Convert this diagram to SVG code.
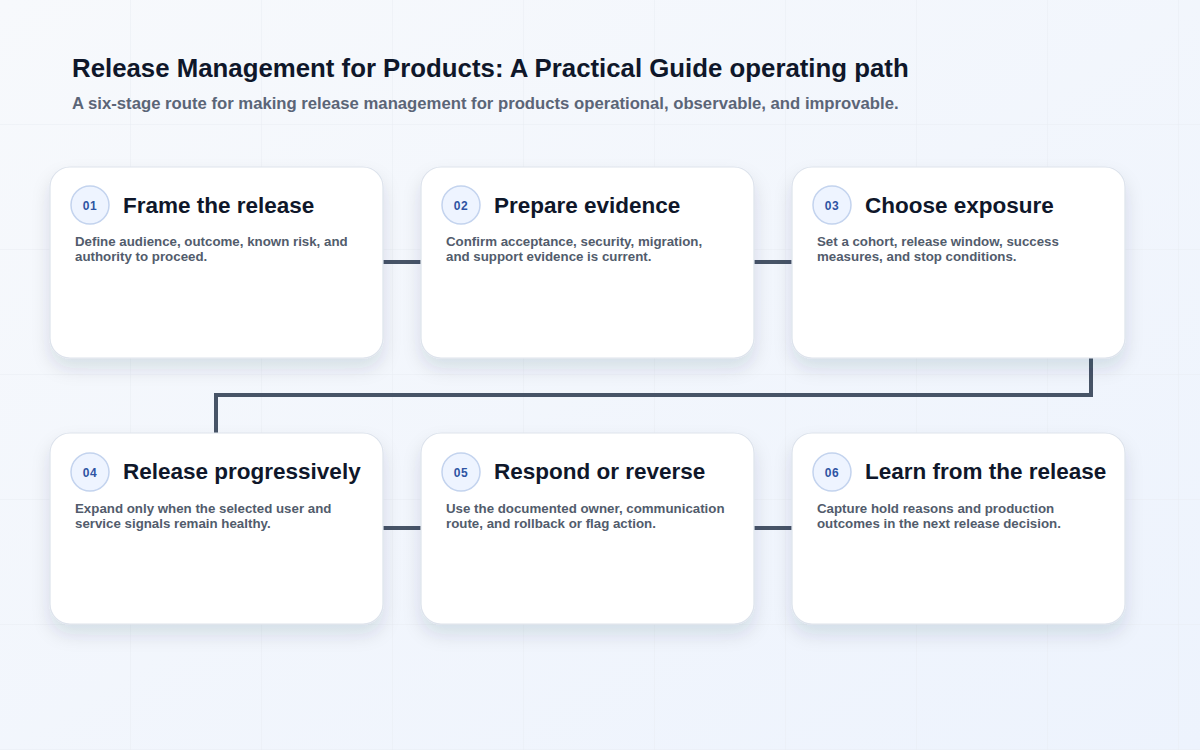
<svg xmlns="http://www.w3.org/2000/svg" width="1200" height="750" viewBox="0 0 1200 750">
  <defs>
    <linearGradient id="bg" x1="0" y1="0" x2="1" y2="1">
      <stop offset="0" stop-color="#f7f9fc"/>
      <stop offset="1" stop-color="#edf3fd"/>
    </linearGradient>
    <pattern id="grid" x="0" y="0" width="131" height="125" patternUnits="userSpaceOnUse">
      <path d="M131 0 V125 M0 125 H131" fill="none" stroke="#e9edf3" stroke-width="1"/>
    </pattern>
    <filter id="shadow" x="-20%" y="-20%" width="140%" height="150%">
      <feDropShadow dx="0" dy="10" stdDeviation="9" flood-color="#1e2a4a" flood-opacity="0.12"/>
    </filter>
    <style>
      .card{fill:#ffffff;stroke:#dde3ec;stroke-width:1.2;filter:url(#shadow)}
      .badge{fill:#eef4ff;stroke:#c3d3ee;stroke-width:1.5}
      .num{font-family:"Liberation Sans",Arial,sans-serif;font-size:12px;font-weight:700;fill:#2f54a3;text-anchor:middle;letter-spacing:0.5px}
      .title{font-family:"Liberation Sans",Arial,sans-serif;font-size:22.5px;font-weight:700;fill:#0f172a}
      .desc{font-family:"Liberation Sans",Arial,sans-serif;font-size:13.3px;font-weight:700;fill:#525c6c}
      .conn{fill:none;stroke:#475467;stroke-width:4;stroke-linejoin:miter}
      .h1{font-family:"Liberation Sans",Arial,sans-serif;font-size:25.8px;font-weight:700;fill:#0f172a}
      .sub{font-family:"Liberation Sans",Arial,sans-serif;font-size:16.7px;font-weight:700;fill:#5b6577}
    </style>
  </defs>
  <rect width="1200" height="750" fill="url(#bg)"/>
  <rect width="1200" height="750" fill="url(#grid)"/>

  <text class="h1" x="72" y="77">Release Management for Products: A Practical Guide operating path</text>
  <text class="sub" x="72" y="109">A six-stage route for making release management for products operational, observable, and improvable.</text>

  <g id="connectors">
    <path class="conn" d="M383 262 H421"/>
    <path class="conn" d="M754 262 H792"/>
    <path class="conn" d="M1091 358 V395 H216 V433"/>
    <path class="conn" d="M383 528 H421"/>
    <path class="conn" d="M754 528 H792"/>
  </g>

  <g id="node-01">
    <rect class="card" x="50" y="167" width="333" height="191" rx="20"/>
    <circle class="badge" cx="90" cy="205" r="19"/>
    <text class="num" x="90" y="209.5">01</text>
    <text class="title" x="123" y="212.5">Frame the release</text>
    <text class="desc" x="75" y="246">Define audience, outcome, known risk, and</text>
    <text class="desc" x="75" y="261">authority to proceed.</text>
  </g>
  <g id="node-02">
    <rect class="card" x="421" y="167" width="333" height="191" rx="20"/>
    <circle class="badge" cx="461" cy="205" r="19"/>
    <text class="num" x="461" y="209.5">02</text>
    <text class="title" x="494" y="212.5">Prepare evidence</text>
    <text class="desc" x="446" y="246">Confirm acceptance, security, migration,</text>
    <text class="desc" x="446" y="261">and support evidence is current.</text>
  </g>
  <g id="node-03">
    <rect class="card" x="792" y="167" width="333" height="191" rx="20"/>
    <circle class="badge" cx="832" cy="205" r="19"/>
    <text class="num" x="832" y="209.5">03</text>
    <text class="title" x="865" y="212.5">Choose exposure</text>
    <text class="desc" x="817" y="246">Set a cohort, release window, success</text>
    <text class="desc" x="817" y="261">measures, and stop conditions.</text>
  </g>
  <g id="node-04">
    <rect class="card" x="50" y="433" width="333" height="191" rx="20"/>
    <circle class="badge" cx="90" cy="472" r="19"/>
    <text class="num" x="90" y="476.5">04</text>
    <text class="title" x="123" y="479">Release progressively</text>
    <text class="desc" x="75" y="513">Expand only when the selected user and</text>
    <text class="desc" x="75" y="528">service signals remain healthy.</text>
  </g>
  <g id="node-05">
    <rect class="card" x="421" y="433" width="333" height="191" rx="20"/>
    <circle class="badge" cx="461" cy="472" r="19"/>
    <text class="num" x="461" y="476.5">05</text>
    <text class="title" x="494" y="479">Respond or reverse</text>
    <text class="desc" x="446" y="513">Use the documented owner, communication</text>
    <text class="desc" x="446" y="528">route, and rollback or flag action.</text>
  </g>
  <g id="node-06">
    <rect class="card" x="792" y="433" width="333" height="191" rx="20"/>
    <circle class="badge" cx="832" cy="472" r="19"/>
    <text class="num" x="832" y="476.5">06</text>
    <text class="title" x="865" y="479">Learn from the release</text>
    <text class="desc" x="817" y="513">Capture hold reasons and production</text>
    <text class="desc" x="817" y="528">outcomes in the next release decision.</text>
  </g>
</svg>
